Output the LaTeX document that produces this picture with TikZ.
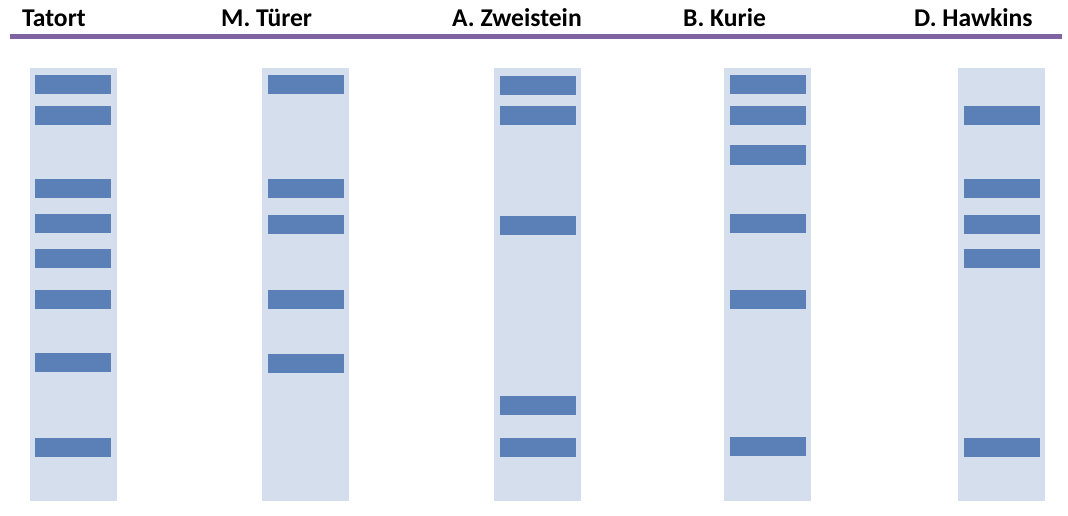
\documentclass[tikz,border=0pt]{standalone}
\usepackage{fontspec}
\setmainfont{Carlito}
\definecolor{lanecol}{HTML}{D5DEED}
\definecolor{bandcol}{HTML}{5B80B8}
\definecolor{linecol}{HTML}{8064A2}
\tikzset{
  lane/.style={fill=lanecol, draw=none},
  band/.style={fill=bandcol, draw=none},
  title/.style={anchor=base west, inner sep=0pt, font=\bfseries\fontsize{25.6}{30}\selectfont}
}
\begin{document}
\begin{tikzpicture}[x=1pt,y=-1pt]
\useasboundingbox (0,0) rectangle (1068,516);
\fill[linecol] (10,34) rectangle (1062,39.3);
\node[title] (t1) at (22,27) {Tatort};
\node[title] (t2) at (221,27) {M. Türer};
\node[title] (t3) at (452,27) {A. Zweistein};
\node[title] (t4) at (683,27) {B. Kurie};
\node[title] (t5) at (914,27) {D. Hawkins};
% lanes
\foreach \lx in {30,262,494,724,958.3}
  \fill[lane] (\lx,68.3) rectangle ++(86.5,432.4);
% bands
\foreach \c in {85,116,188,223,258,299,362,447}
  \fill[band] (35,\c-9.5) rectangle ++(76,19);
\foreach \c in {85,188,224,299,363}
  \fill[band] (268,\c-9.5) rectangle ++(76,19);
\foreach \c in {86,116,225,405.5,447}
  \fill[band] (500,\c-9.5) rectangle ++(76,19);
\foreach \c in {85,115.5,155,223,299,446}
  \fill[band] (730,\c-9.5) rectangle ++(76,19);
\foreach \c in {115.5,188,224,258,447}
  \fill[band] (964,\c-9.5) rectangle ++(76,19);
\end{tikzpicture}
\end{document}
